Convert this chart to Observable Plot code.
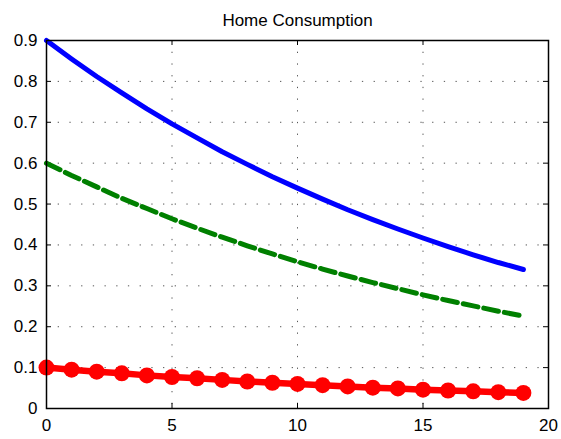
<!DOCTYPE html>
<html>
<head>
<meta charset="utf-8">
<script src="https://cdn.jsdelivr.net/npm/d3@7"></script>
<script src="https://cdn.jsdelivr.net/npm/@observablehq/plot@0.6"></script>
<style>
  html, body { margin: 0; padding: 0; background: #fff; }
  #chart svg { display: block; font-family: "Liberation Sans", Arial, sans-serif; }
</style>
</head>
<body>
<div id="chart"></div>
<script>
const title = "Home Consumption";
const periods = [0,1,2,3,4,5,6,7,8,9,10,11,12,13,14,15,16,17,18,19];
const blueSeries = [0.900,0.855,0.812,0.772,0.733,0.696,0.662,0.628,0.597,0.567,0.539,0.512,0.486,0.462,0.439,0.417,0.396,0.376,0.357,0.340];
const greenSeries = [0.600,0.570,0.542,0.514,0.489,0.464,0.441,0.419,0.398,0.378,0.359,0.341,0.324,0.308,0.293,0.278,0.264,0.251,0.238,0.226];
const redSeries = [0.100,0.095,0.090,0.086,0.081,0.077,0.074,0.070,0.066,0.063,0.060,0.057,0.054,0.051,0.049,0.046,0.044,0.042,0.040,0.038];
const xTicks = [0,5,10,15,20];
const yTicks = [0,0.1,0.2,0.3,0.4,0.5,0.6,0.7,0.8,0.9];

const blue = periods.map((t,i) => ({t, v: blueSeries[i]}));
const green = periods.map((t,i) => ({t, v: greenSeries[i]}));
const red = periods.map((t,i) => ({t, v: redSeries[i]}));

const W = 561, H = 439;
const mL = 46, mR = 13, mT = 40, mB = 31;
const plotW = W - mL - mR, plotH = H - mT - mB;
const tk = 5;
const grid = {stroke: "#555", strokeOpacity: 1, strokeWidth: 1, strokeDasharray: "1.3,10.4"};

const chart = Plot.plot({
  width: W, height: H,
  marginLeft: mL, marginRight: mR, marginTop: mT, marginBottom: mB,
  style: {fontFamily: "'Liberation Sans', Arial, sans-serif", fontSize: "17px", color: "#000", background: "#fff"},
  x: {domain: [0, 20]},
  y: {domain: [0, 0.9]},
  marks: [
    Plot.gridX(xTicks.slice(1, -1), grid),
    Plot.gridY(yTicks.slice(1, -1), grid),
    Plot.axisX(xTicks, {anchor: "bottom", tickSize: 0, tickPadding: 10, fontSize: 17, label: null}),
    Plot.axisY(yTicks, {anchor: "left", tickSize: 0, tickPadding: 9, fontSize: 17, label: null,
      tickFormat: d => d === 0 ? "0" : d.toFixed(1)}),
    Plot.tickX(xTicks, {x: d => d, insetTop: plotH - tk, stroke: "#000"}),
    Plot.tickX(xTicks, {x: d => d, insetBottom: plotH - tk, stroke: "#000"}),
    Plot.tickY(yTicks, {y: d => d, insetLeft: plotW - tk, stroke: "#000"}),
    Plot.tickY(yTicks, {y: d => d, insetRight: plotW - tk, stroke: "#000"}),
    Plot.line(blue, {x: "t", y: "v", stroke: "#0000ff", strokeWidth: 5}),
    Plot.line(green, {x: "t", y: "v", stroke: "#008000", strokeWidth: 5, strokeDasharray: "15,6"}),
    Plot.line(red, {x: "t", y: "v", stroke: "#ff0000", strokeWidth: 6.5}),
    Plot.dot(red, {x: "t", y: "v", r: 8, fill: "#ff0000", stroke: "none"}),
    Plot.frame({stroke: "#000", strokeWidth: 1.5}),
    Plot.text([title], {frameAnchor: "top", dy: -15, lineAnchor: "bottom", fontSize: 17, fill: "#000"})
  ]
});
document.getElementById("chart").appendChild(chart);
</script>
</body>
</html>
